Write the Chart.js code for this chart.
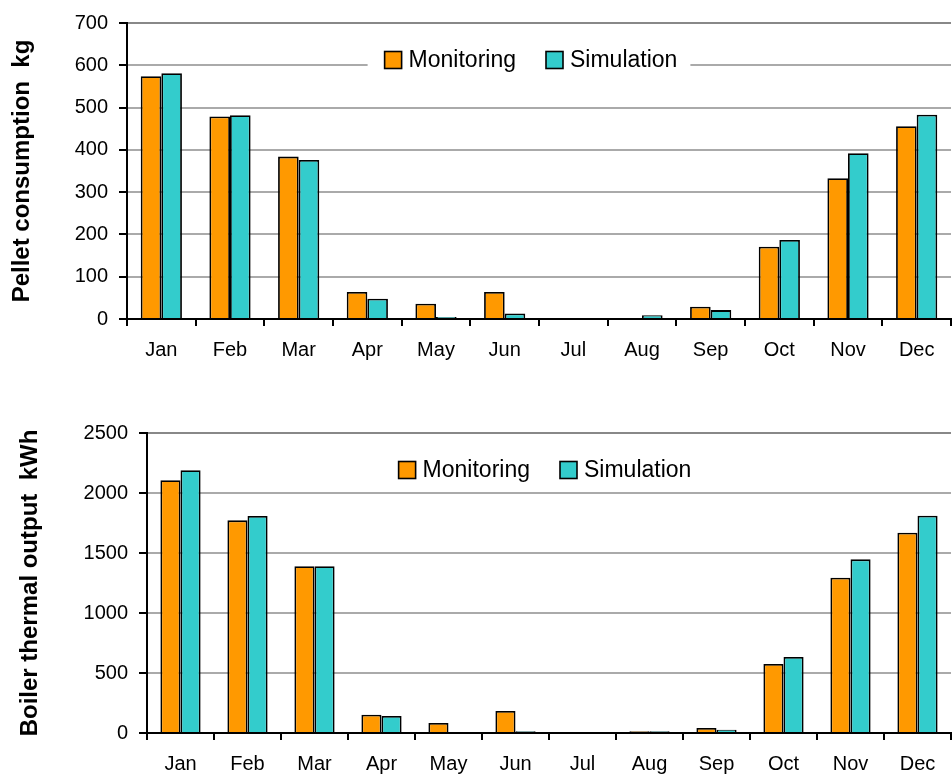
<!DOCTYPE html>
<html>
<head>
<meta charset="utf-8">
<script src="https://cdn.jsdelivr.net/npm/chart.js@4.4.0/dist/chart.umd.min.js"></script>
<style>
html, body { margin: 0; padding: 0; background: #fff; }
#wrap { position: relative; width: 952px; height: 779px; }
canvas { position: absolute; left: 0; }
#pellet { top: 0; }
#boiler { top: 390px; }
</style>
</head>
<body>
<div id="wrap">
  <canvas id="pellet" width="952" height="390"></canvas>
  <canvas id="boiler" width="952" height="389"></canvas>
</div>
<script>
var months = ['Jan', 'Feb', 'Mar', 'Apr', 'May', 'Jun', 'Jul', 'Aug', 'Sep', 'Oct', 'Nov', 'Dec'];
var seriesNames = ['Monitoring', 'Simulation'];

// pellet consumption, kg
var pelletMonitoring = [574, 479, 384, 64, 36, 64, 0, 0, 29, 171, 333, 456];
var pelletSimulation = [581, 482, 376, 48, 5, 13, 0, 9, 21, 187, 392, 483];

// boiler thermal output, kWh
var boilerMonitoring = [2106, 1772, 1389, 153, 83, 183, 0, 14, 42, 575, 1294, 1669];
var boilerSimulation = [2189, 1808, 1389, 142, 0, 14, 0, 14, 28, 633, 1447, 1811];

var pelletAxis = { max: 700, step: 100 };
var boilerAxis = { max: 2500, step: 500 };

var FONT = 'Liberation Sans, Arial, sans-serif';

// legend inside the plot: boxes with black outline, white patch behind
function legendLayout(chart) {
  var ctx = chart.ctx;
  var o = chart.options.plugins.boxLegend;
  var area = chart.chartArea;
  ctx.font = o.fontSize + 'px ' + FONT;
  var items = chart.data.datasets.map(function(d) {
    return { text: d.label, fill: d.backgroundColor, w: ctx.measureText(d.label).width };
  });
  var total = 0;
  items.forEach(function(it, i) { total += o.box + o.gap + it.w + (i ? o.sep : 0); });
  var x = (area.left + area.right) / 2 - total / 2 + o.shift;
  return { items: items, x: x, total: total, cy: area.top + o.dy, o: o };
}

var boxLegend = {
  id: 'boxLegend',
  beforeDatasetsDraw: function(chart) {
    var L = legendLayout(chart);
    var ctx = chart.ctx;
    ctx.save();
    ctx.fillStyle = '#fff';
    ctx.fillRect(L.x - 17, L.cy - 19, L.total + 30, 38);
    ctx.restore();
  },
  afterDatasetsDraw: function(chart) {
    var L = legendLayout(chart);
    var ctx = chart.ctx, o = L.o;
    var x = L.x;
    ctx.save();
    ctx.font = o.fontSize + 'px ' + FONT;
    ctx.textBaseline = 'middle';
    ctx.textAlign = 'left';
    L.items.forEach(function(it) {
      ctx.fillStyle = it.fill;
      ctx.fillRect(x, L.cy - o.box / 2, o.box, o.box);
      ctx.lineWidth = 1.6;
      ctx.strokeStyle = '#000';
      ctx.strokeRect(x, L.cy - o.box / 2, o.box, o.box);
      ctx.fillStyle = '#000';
      ctx.fillText(it.text, x + o.box + o.gap, L.cy + 1);
      x += o.box + o.gap + it.w + o.sep;
    });
    ctx.restore();
  }
};

function makeChart(id, mon, sim, axis, title, opt) {
  return new Chart(document.getElementById(id), {
    type: 'bar',
    data: {
      labels: months,
      datasets: [{
        label: seriesNames[0],
        data: mon,
        backgroundColor: '#FF9900',
        borderColor: '#000',
        borderWidth: 1.8
      }, {
        label: seriesNames[1],
        data: sim,
        backgroundColor: '#33CCCC',
        borderColor: '#000',
        borderWidth: 1.8
      }]
    },
    options: {
      responsive: false,
      animation: false,
      categoryPercentage: 0.6,
      barPercentage: 1.0,
      layout: { padding: { top: opt.padTop, right: 1, left: 0, bottom: 0 } },
      plugins: {
        tooltip: { enabled: false },
        legend: { display: false },
        boxLegend: { fontSize: 23, box: 17, gap: 7, sep: 30, dy: 37, shift: opt.legendShift }
      },
      scales: {
        x: {
          afterFit: function(s) { s.height = opt.xHeight; },
          grid: {
            offset: true,
            lineWidth: 2,
            color: function(c) { return c.index === months.length ? '#888' : 'rgba(0,0,0,0)'; },
            drawTicks: true,
            tickLength: 7,
            tickWidth: 2,
            tickColor: '#000'
          },
          border: { color: '#000', width: 2 },
          ticks: {
            color: '#000',
            padding: 12,
            font: { family: FONT, size: 20 }
          }
        },
        y: {
          min: 0,
          max: axis.max,
          afterFit: function(s) { s.width = opt.yWidth; },
          grid: {
            lineWidth: 2,
            color: function(c) { return c.tick && c.tick.value === axis.max ? '#888' : '#aaa'; },
            tickLength: 8,
            tickWidth: 2,
            tickColor: '#000'
          },
          border: { color: '#000', width: 2 },
          ticks: {
            stepSize: axis.step,
            color: '#000',
            padding: 11,
            font: { family: FONT, size: 20 },
            callback: function(v) { return String(v); }
          },
          title: {
            display: true,
            text: title,
            color: '#000',
            padding: { top: opt.titlePad, bottom: 0 },
            font: { family: FONT, size: 24, weight: 'bold' }
          }
        }
      }
    },
    plugins: [boxLegend]
  });
}

makeChart('pellet', pelletMonitoring, pelletSimulation, pelletAxis,
  'Pellet consumption  kg', { padTop: 20, xHeight: 71, yWidth: 127, titlePad: 8, legendShift: -8 });
makeChart('boiler', boilerMonitoring, boilerSimulation, boilerAxis,
  'Boiler thermal output  kWh', { padTop: 43, xHeight: 46, yWidth: 147, titlePad: 16, legendShift: -4 });
</script>
</body>
</html>
